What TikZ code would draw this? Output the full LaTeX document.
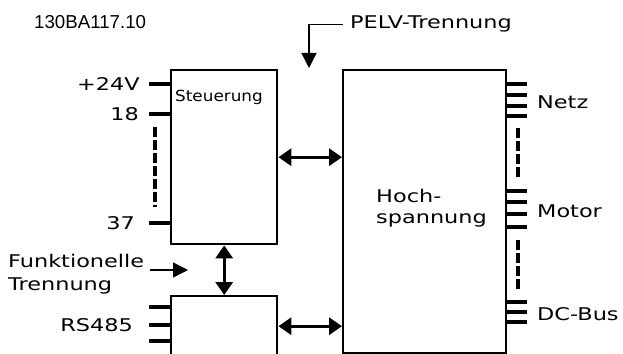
\documentclass[tikz,border=0pt]{standalone}
\usepackage{fontspec}
\setmainfont[FakeStretch=1.28]{DejaVu Sans}
\newfontfamily\stfont[FakeStretch=1.1]{DejaVu Sans}
\newfontfamily\idfont{Liberation Sans}
\usetikzlibrary{arrows.meta}
\begin{document}
\begin{tikzpicture}[x=1pt,y=-1pt,
  box/.style={draw, line width=2.4pt, inner sep=0pt},
  pin/.style={line width=3.4pt},
  dashline/.style={line width=3.2pt, dash pattern=on 9.5pt off 3.5pt},
  lbl/.style={font=\fontsize{17.5}{23}\selectfont, inner sep=0pt},
  dbl/.style={line width=3.4pt, {Triangle[length=13pt,width=17pt]}-{Triangle[length=13pt,width=17pt]}},
  thinarrow/.style={line width=1.3pt, -{Triangle[length=15pt,width=15pt]}}
]
\useasboundingbox (0,0) rectangle (623,353);
\clip (0,0) rectangle (623,353);

% boxes
\node[box, anchor=north west, minimum width=106pt, minimum height=174pt] (st) at (170,69) {};
\node[box, anchor=north west, minimum width=106pt, minimum height=60pt] (io) at (170,295) {};
\node[box, anchor=north west, minimum width=163pt, minimum height=283pt] (hv) at (342,69) {};

% texts
\node[font=\idfont\fontsize{18.7}{22}\selectfont, inner sep=0pt, anchor=base west] (id) at (34,29) {130BA117.10};
\node[lbl, anchor=base west] (pelv) at (350,29) {PELV-Trennung};
\node[font=\stfont\fontsize{15.3}{18}\selectfont, inner sep=0pt, anchor=base west] (stl) at (175,101) {Steuerung};
\node[lbl, anchor=base west] (hoch1) at (376,202) {Hoch-};
\node[lbl, anchor=base west] (hoch2) at (376,223.5) {spannung};
\node[lbl, anchor=base west] (fk1) at (8,267) {Funktionelle};
\node[lbl, anchor=base west] (fk2) at (8,290) {Trennung};

\node[lbl, anchor=east] (p24) at (140,84) {+24V};
\node[lbl, anchor=east] (p18) at (139,114) {18};
\node[lbl, anchor=east] (p37) at (135,223) {37};
\node[lbl, anchor=east] (rs) at (133,325) {RS485};
\node[lbl, anchor=west] (netz) at (537,102) {Netz};
\node[lbl, anchor=west] (motor) at (537,211) {Motor};
\node[lbl, anchor=west] (dcbus) at (537,314) {DC-Bus};

% left pins
\draw[pin] (149,84) -- (st.west |- 0,84);
\draw[pin] (149,114) -- (st.west |- 0,114);
\draw[pin] (149,223) -- (st.west |- 0,223);
\draw[dashline] (155,127) -- (155,207);
\draw[pin] (149,307) -- (io.west |- 0,307);
\draw[pin] (149,325) -- (io.west |- 0,325);
\draw[pin] (149,341) -- (io.west |- 0,341);

% right pins
\foreach \yy in {84,95,106,116,191,202,214,227,302,312,322}
  \draw[pin] (hv.east |- 0,\yy) -- (527,\yy);
\draw[dashline] (518,128) -- (518,177);
\draw[dashline] (518,240) -- (518,290);

% connectors
\draw[dbl] (st.east) -- (st.east -| hv.west);
\draw[dbl] (io.east) -- (io.east -| hv.west);
\draw[dbl] (st.south) -- (io.north);

% separation arrows
\coordinate (pelvtip) at (309,68);
\draw[thinarrow] ([xshift=-7pt]pelv.west) -| (pelvtip);
\coordinate (ftA) at (150,270);
\coordinate (ftB) at (188,270);
\draw[thinarrow] (ftA) -- (ftB);
\end{tikzpicture}
\end{document}
